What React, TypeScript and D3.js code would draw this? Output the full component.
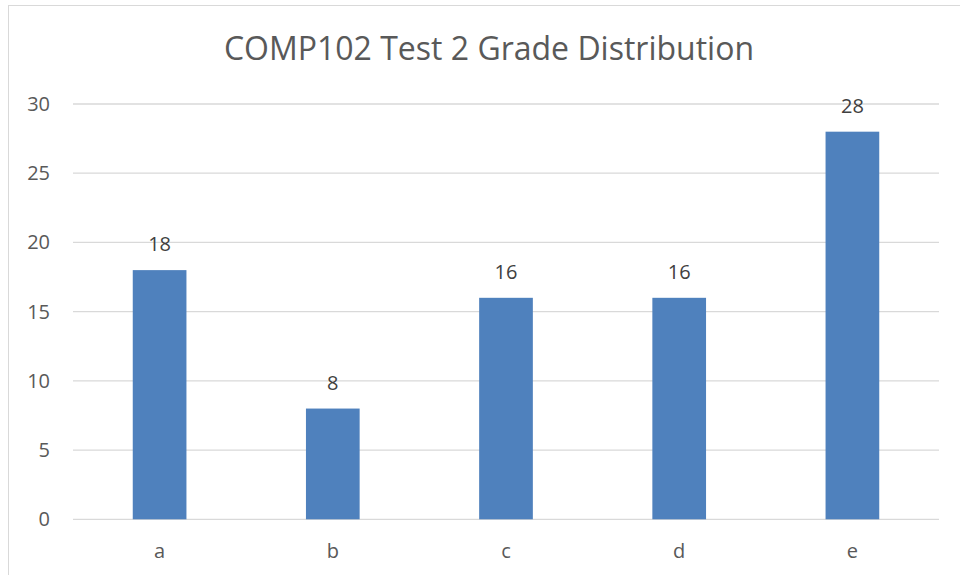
import React, { useEffect, useRef } from 'react';
import * as d3 from 'd3';

const categories = ['a', 'b', 'c', 'd', 'e'];
const counts = [18, 8, 16, 16, 28];
const yTicks = [0, 5, 10, 15, 20, 25, 30];
const title = 'COMP102 Test 2 Grade Distribution';

export default function App() {
  const ref = useRef<SVGSVGElement>(null);

  useEffect(() => {
    const width = 960,
      height = 575;
    const left = 73,
      right = 939,
      top = 104,
      bottom = 519.3;

    const svg = d3.select(ref.current);
    svg.selectAll('*').remove();

    // chart frame (runs off the right/bottom edge of the picture)
    svg
      .append('rect')
      .attr('x', 8.5)
      .attr('y', 5.5)
      .attr('width', width + 10)
      .attr('height', height + 10)
      .attr('fill', 'white')
      .attr('stroke', '#d9d9d9')
      .attr('stroke-width', 1);

    const x = d3.scaleBand().domain(categories).range([left, right]).paddingInner(0.69).paddingOuter(0.345);
    const y = d3.scaleLinear().domain([0, 30]).range([bottom, top]);

    const font = "'Open Sans', 'Noto Sans', sans-serif";

    // gridlines
    svg
      .selectAll('line.grid')
      .data(yTicks)
      .enter()
      .append('line')
      .attr('x1', left)
      .attr('x2', right)
      .attr('y1', (d) => y(d))
      .attr('y2', (d) => y(d))
      .attr('stroke', '#d9d9d9')
      .attr('stroke-width', 1.3);

    // y labels
    svg
      .selectAll('text.ytick')
      .data(yTicks)
      .enter()
      .append('text')
      .attr('x', 50)
      .attr('y', (d) => y(d))
      .attr('dy', '0.35em')
      .attr('text-anchor', 'end')
      .attr('font-family', font)
      .attr('font-size', 20)
      .attr('fill', '#595959')
      .text((d) => d);

    // bars
    svg
      .selectAll('rect.bar')
      .data(categories)
      .enter()
      .append('rect')
      .attr('x', (d) => x(d)!)
      .attr('width', x.bandwidth())
      .attr('y', (d, i) => y(counts[i]))
      .attr('height', (d, i) => y(0) - y(counts[i]))
      .attr('fill', '#4f81bd');

    // value labels
    svg
      .selectAll('text.val')
      .data(categories)
      .enter()
      .append('text')
      .attr('x', (d) => x(d)! + x.bandwidth() / 2)
      .attr('y', (d, i) => y(counts[i]) - 19)
      .attr('text-anchor', 'middle')
      .attr('font-family', font)
      .attr('font-size', 20)
      .attr('fill', '#404040')
      .text((d, i) => counts[i]);

    // category labels
    svg
      .selectAll('text.cat')
      .data(categories)
      .enter()
      .append('text')
      .attr('x', (d) => x(d)! + x.bandwidth() / 2)
      .attr('y', 558)
      .attr('text-anchor', 'middle')
      .attr('font-family', font)
      .attr('font-size', 20)
      .attr('fill', '#595959')
      .text((d) => d);

    svg
      .append('text')
      .attr('x', 489)
      .attr('y', 60)
      .attr('text-anchor', 'middle')
      .attr('font-family', font)
      .attr('font-size', 32)
      .attr('fill', '#595959')
      .text(title);
  }, []);

  return (
    <svg
      ref={ref}
      width={960}
      height={575}
      style={{ position: 'absolute', left: 0, top: 0, display: 'block' }}
    />
  );
}
